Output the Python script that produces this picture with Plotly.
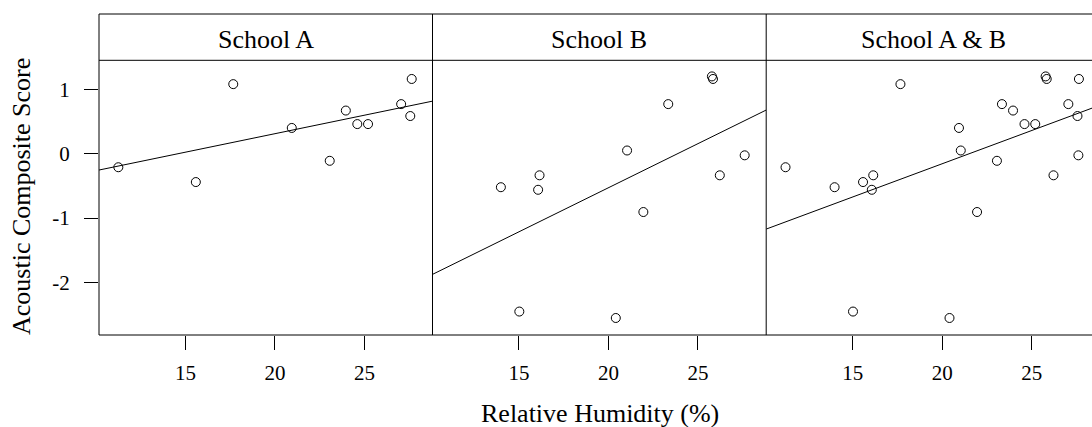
import numpy as np
import plotly.graph_objects as go

# ---- data ----
panel_titles = ["School A", "School B", "School A & B"]
school_a_rh = [11.25, 15.58, 17.67, 20.94, 23.06, 23.96, 24.60, 25.20, 27.05, 27.56, 27.64]
school_a_score = [-0.21, -0.44, 1.08, 0.40, -0.11, 0.67, 0.46, 0.46, 0.77, 0.585, 1.16]
school_b_rh = [13.99, 15.02, 16.15, 16.07, 20.41, 21.04, 21.95, 23.34, 25.78, 25.84, 26.22, 27.61]
school_b_score = [-0.52, -2.45, -0.335, -0.56, -2.55, 0.05, -0.905, 0.77, 1.20, 1.16, -0.335, -0.025]
x_ticks = [15, 20, 25]
y_ticks = [-2, -1, 0, 1]
y_tick_labels = ["-2", "-1", "0", "1"]

# ---- layout geometry (pixels) ----
W, H = 1092, 427
ML, MT, MB = 99, 14, 92
PW = W - ML
PH = H - MT - MB
panel_px = [(99, 432.5), (432.5, 766.2), (766.2, 1092)]
panel_full_right = 1100
strip_bottom_px = 60.3
PX_PER_UNIT = 17.9
X0 = 10.17
YR = [-2.814, 1.45]

def px2paper_x(px):
    return (px - ML) / PW

def px2paper_y(py):
    return (H - MB - py) / PH

strip_y = px2paper_y(strip_bottom_px)

FONT = "Liberation Serif"
data_sets = [
    (school_a_rh, school_a_score),
    (school_b_rh, school_b_score),
    (school_a_rh + school_b_rh, school_a_score + school_b_score),
]

fig = go.Figure()
layout = dict(
    width=W, height=H,
    margin=dict(l=ML, r=0, t=MT, b=MB, pad=0),
    paper_bgcolor="white", plot_bgcolor="white",
    showlegend=False,
    font=dict(family=FONT, color="black", size=21),
)
shapes = []
annotations = []

for i, ((xs, ys), title) in enumerate(zip(data_sets, panel_titles)):
    p0, p1 = panel_px[i]
    xr = [X0, X0 + (p1 - p0) / PX_PER_UNIT]
    sfx = "" if i == 0 else str(i + 1)
    xa, ya = "x" + sfx, "y" + sfx
    fig.add_trace(go.Scatter(
        x=xs, y=ys, mode="markers", xaxis=xa, yaxis=ya,
        marker=dict(symbol="circle-open", size=9, color="black", line=dict(width=1, color="black")),
        hoverinfo="skip",
    ))
    slope, intercept = np.polyfit(np.array(xs), np.array(ys), 1)
    lx = np.array(xr)
    fig.add_trace(go.Scatter(
        x=lx, y=slope * lx + intercept, mode="lines", xaxis=xa, yaxis=ya,
        line=dict(color="black", width=1), hoverinfo="skip", cliponaxis=True,
    ))
    layout["xaxis" + sfx] = dict(
        domain=[px2paper_x(p0), px2paper_x(p1)], range=xr, anchor=ya,
        tickmode="array", tickvals=x_ticks, ticks="outside", ticklen=14,
        tickwidth=1, tickcolor="black", showgrid=False, zeroline=False,
        showline=False, tickfont=dict(family=FONT, size=21, color="black"),
        ticklabelstandoff=5, fixedrange=True,
    )
    layout["yaxis" + sfx] = dict(
        domain=[0, strip_y], range=YR, anchor=xa,
        tickmode="array", tickvals=y_ticks, ticktext=y_tick_labels,
        ticks="outside" if i == 0 else "", ticklen=14, tickwidth=1, tickcolor="black",
        showticklabels=(i == 0), showgrid=False, zeroline=False, showline=False,
        tickfont=dict(family=FONT, size=21, color="black"),
        ticklabelstandoff=10, fixedrange=True,
    )
    # strip title centred on the full (uncut) panel
    right_full = p1 if i < 2 else panel_full_right
    annotations.append(dict(
        x=px2paper_x((p0 + right_full) / 2), y=px2paper_y(39),
        xref="paper", yref="paper", text=title, showarrow=False,
        xanchor="center", yanchor="middle",
        font=dict(family=FONT, size=26, color="black"),
    ))
    # vertical border at the left of each panel
    shapes.append(dict(type="line", xref="paper", yref="paper",
                       x0=px2paper_x(p0), x1=px2paper_x(p0), y0=0, y1=1,
                       line=dict(color="black", width=1)))

for yy in [0, strip_y, 1]:
    shapes.append(dict(type="line", xref="paper", yref="paper",
                       x0=0, x1=1, y0=yy, y1=yy, line=dict(color="black", width=1)))

annotations.append(dict(
    x=px2paper_x((ML + panel_full_right) / 2), y=px2paper_y(413),
    xref="paper", yref="paper", text="Relative Humidity (%)", showarrow=False,
    xanchor="center", yanchor="middle", font=dict(family=FONT, size=26, color="black"),
))
annotations.append(dict(
    x=px2paper_x(22), y=px2paper_y(197), xref="paper", yref="paper",
    text="Acoustic Composite Score", showarrow=False, textangle=-90,
    xanchor="center", yanchor="middle", font=dict(family=FONT, size=26, color="black"),
))

layout["shapes"] = shapes
layout["annotations"] = annotations
fig.update_layout(**layout)
fig.write_html("out.html", config={"displayModeBar": False})
